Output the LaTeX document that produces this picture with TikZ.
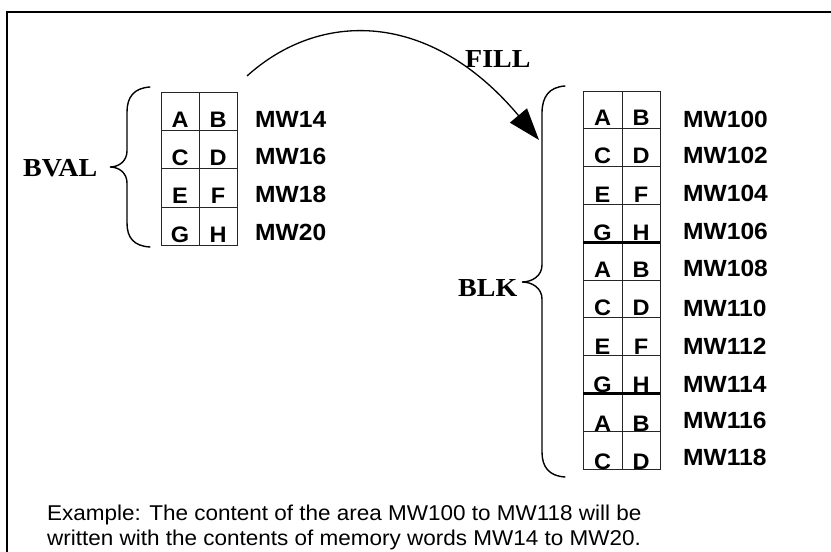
\documentclass[tikz,border=0pt]{standalone}
\usepackage{fontspec}
\setmainfont{Liberation Serif}
\newfontfamily\timesb[FakeStretch=1.08]{Liberation Serif}
\newfontfamily\arialf[FakeStretch=1.05]{Liberation Sans}
\usetikzlibrary{arrows.meta}
\tikzset{
  frameline/.style={line width=1.4bp, black},
  gridline/.style={line width=0.9bp, black!85},
  sepline/.style={line width=3.2bp, black},
  braceline/.style={line width=1.4bp, black, line cap=round},
  cellletter/.style={font=\arialf\bfseries\fontsize{22.5}{22.5}\selectfont, inner sep=0pt, anchor=base},
  mwlabel/.style={font=\arialf\bfseries\fontsize{23.5}{23.5}\selectfont, inner sep=0pt, anchor=base west},
  namelabel/.style={font=\timesb\bfseries\fontsize{26}{26}\selectfont, inner sep=0pt, anchor=base west},
  captext/.style={font=\arialf\fontsize{21.5}{25}\selectfont, inner sep=0pt, anchor=base west},
  fillarrow/.style={line width=1.3bp, -{Triangle[length=32bp,width=22bp]}}
}
\begin{document}
\begin{tikzpicture}[x=1bp,y=-1bp]
\useasboundingbox (0,0) rectangle (831,552);
% frame
\draw[frameline] (7,552) -- (7,12) -- (831,12);

% ---- left grid (BVAL) ----
\draw[gridline] (161,92) rectangle (237,245);
\draw[gridline] (199,92) -- (199,245);
\foreach \yy in {130,168,207} \draw[gridline] (161,\yy) -- (237,\yy);
\foreach \a/\b/\yb/\lb/\lab [count=\i] in {A/B/127.5/128/MW14, C/D/165.5/165/MW16, E/F/204/203/MW18, G/H/242.5/241/MW20}{
  \node[cellletter] (la\i) at (180,\yb) {\a};
  \node[cellletter] (lb\i) at (218,\yb) {\b};
  \node[mwlabel] (lw\i) at (255,\lb) {\lab};
}

% ---- right grid (BLK) ----
\draw[gridline] (583,91) rectangle (660,469);
\draw[gridline] (622,91) -- (622,469);
\foreach \k in {1,...,9} \draw[gridline] (583,{91+37.8*\k}) -- (660,{91+37.8*\k});
\draw[sepline] (583,242.2) -- (660,242.2);
\draw[sepline] (583,393.4) -- (660,393.4);
\foreach \a/\b/\yb/\lb/\lab [count=\i] in {A/B/126/128/MW100, C/D/164/164/MW102, E/F/202.5/202/MW104, G/H/241/240/MW106, A/B/278/277/MW108, C/D/316/317/MW110, E/F/354/354/MW112, G/H/392.5/392/MW114, A/B/431.5/428/MW116, C/D/469/465/MW118}{
  \node[cellletter] (ra\i) at (602.5,\yb) {\a};
  \node[cellletter] (rb\i) at (641,\yb) {\b};
  \node[mwlabel] (rw\i) at (683,\lb) {\lab};
}

% ---- braces ----
\draw[braceline] (150,87) .. controls (134,88) and (127,97) .. (127,112) -- (127,151)
  .. controls (127,161) and (119,167) .. (110,167)
  .. controls (119,167) and (127,173) .. (127,183) -- (127,223)
  .. controls (127,238) and (134,246) .. (150,247);
\draw[braceline] (565,86) .. controls (549,87) and (542,97) .. (542,113) -- (542,265)
  .. controls (542,276) and (532,282) .. (522,282)
  .. controls (532,282) and (542,288) .. (542,299) -- (542,452)
  .. controls (542,467) and (549,476) .. (565,477);

% ---- names ----
\node[namelabel] (bval) at (23,176.5) {BVAL};
\node[namelabel] (blk) at (458,296.5) {BLK};
\node[namelabel] (fill) at (465,67.5) {FILL};

% ---- FILL arrow ----
\coordinate (fillstart) at (247,76);
\coordinate (filltip) at (539,140);
\draw[fillarrow] (fillstart) .. controls (320,10) and (430,10) .. (filltip);

% ---- caption ----
\node[captext] (cap1) at (47,520) {Example: The content of the area MW100 to MW118 will be};
\node[captext] (cap2) at (47,545) {written with the contents of memory words MW14 to MW20.};
\end{tikzpicture}
\end{document}
